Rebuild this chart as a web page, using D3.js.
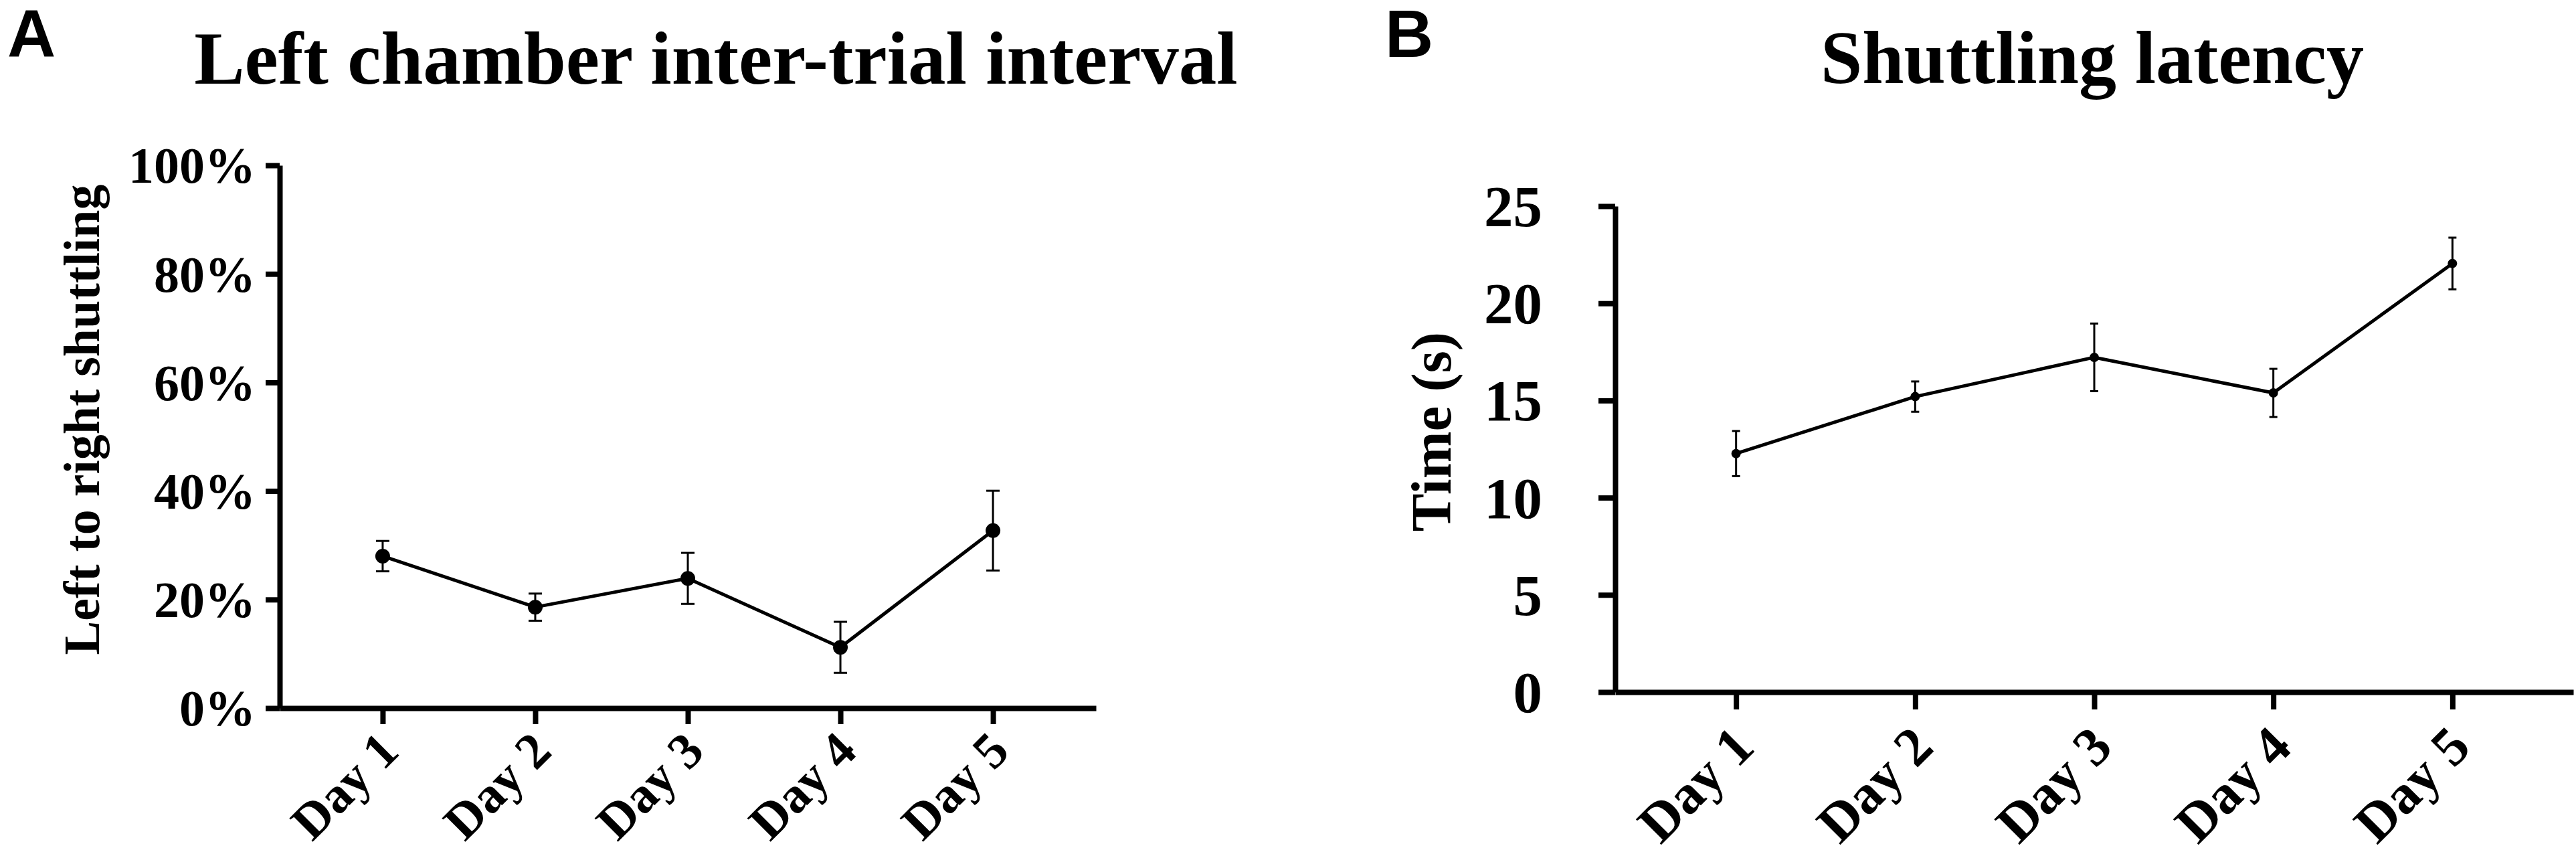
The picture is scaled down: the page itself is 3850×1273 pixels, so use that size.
<!DOCTYPE html>
<html>
<head>
<meta charset="utf-8">
<script src="https://cdn.jsdelivr.net/npm/d3@7/dist/d3.min.js"></script>
<style>
  html, body { margin: 0; padding: 0; background: #fff; }
  svg { display: block; }
  .serif { font-family: "Liberation Serif", "Times New Roman", Times, serif; font-weight: bold; }
  .sans { font-family: "Liberation Sans", Arial, Helvetica, sans-serif; font-weight: bold; }
</style>
</head>
<body>
<svg id="chart" width="3850" height="1273"></svg>
<script>
// ---- Data ----
const days = ["Day 1", "Day 2", "Day 3", "Day 4", "Day 5"];
// Panel A: Left chamber inter-trial interval (% left-to-right shuttling)
const leftToRightPct = [28.0, 18.6, 23.9, 11.2, 32.7];
const leftToRightErr = [2.8, 2.5, 4.7, 4.7, 7.35];
// Panel B: Shuttling latency (s)
const latencySec = [12.27, 15.2, 17.22, 15.39, 22.05];
const latencyErr = [1.16, 0.78, 1.74, 1.24, 1.33];
// Tick values
const pctTicks = [0, 20, 40, 60, 80, 100];
const secTicks = [0, 5, 10, 15, 20, 25];

const svg = d3.select("#chart");
svg.append("rect").attr("width", 3850).attr("height", 1273).attr("fill", "#fff");

function panel(opt) {
  const g = svg.append("g");
  const x = d3.scalePoint().domain(days).range(opt.xRange).padding(0.675);
  const y = d3.scaleLinear().domain(opt.yDomain).range(opt.yRange);

  // Y axis
  const ya = g.append("g")
    .attr("transform", `translate(${opt.xRange[0]},0)`)
    .call(d3.axisLeft(y).tickValues(opt.yTicks).tickFormat(opt.fmt)
      .tickSize(opt.yTickLen).tickSizeOuter(0).tickPadding(opt.yPad));
  ya.select(".domain").attr("stroke", "#000").attr("stroke-width", 8);
  ya.selectAll(".tick line").attr("stroke", "#000").attr("stroke-width", 8);
  ya.selectAll(".tick text").attr("class", "serif").attr("font-size", opt.tickFont)
    .attr("fill", "#000").attr("dy", "0.34em");

  // X axis
  const xa = g.append("g")
    .attr("transform", `translate(0,${opt.yRange[0]})`)
    .call(d3.axisBottom(x).tickSize(opt.xTickLen).tickSizeOuter(0));
  xa.select(".domain").attr("stroke", "#000").attr("stroke-width", 8);
  xa.selectAll(".tick line").attr("stroke", "#000").attr("stroke-width", 8);
  xa.selectAll(".tick text").attr("class", "serif").attr("font-size", opt.xFont)
    .attr("fill", "#000").attr("text-anchor", "end")
    .attr("x", 0).attr("y", 0).attr("dy", 0)
    .attr("transform", `translate(${opt.lblDx},${opt.lblDy}) rotate(-45)`);

  // Line
  const pts = days.map((d, i) => ({ d, v: opt.values[i], e: opt.errs[i] }));
  g.append("path").datum(pts)
    .attr("fill", "none").attr("stroke", "#000").attr("stroke-width", 5)
    .attr("stroke-linejoin", "round")
    .attr("d", d3.line().x(p => x(p.d)).y(p => y(p.v)));

  // Error bars
  const eb = g.selectAll(".eb").data(pts).join("g").attr("class", "eb")
    .attr("stroke", "#000").attr("stroke-width", 3);
  eb.append("line").attr("x1", p => x(p.d)).attr("x2", p => x(p.d))
    .attr("y1", p => y(p.v + p.e)).attr("y2", p => y(p.v - p.e));
  eb.append("line").attr("x1", p => x(p.d) - opt.cap).attr("x2", p => x(p.d) + opt.cap)
    .attr("y1", p => y(p.v + p.e)).attr("y2", p => y(p.v + p.e));
  eb.append("line").attr("x1", p => x(p.d) - opt.cap).attr("x2", p => x(p.d) + opt.cap)
    .attr("y1", p => y(p.v - p.e)).attr("y2", p => y(p.v - p.e));

  // Dots
  g.selectAll(".dot").data(pts).join("circle").attr("class", "dot")
    .attr("cx", p => x(p.d)).attr("cy", p => y(p.v)).attr("r", opt.r).attr("fill", "#000");

  // Title
  g.append("text").attr("class", "serif").attr("font-size", opt.titleFont)
    .attr("text-anchor", "middle").attr("x", opt.titleX).attr("y", opt.titleY)
    .text(opt.title);
  // Y label
  g.append("text").attr("class", "serif").attr("font-size", opt.yLabFont)
    .attr("text-anchor", "middle")
    .attr("transform", `translate(${opt.yLabX},${opt.yLabY}) rotate(-90)`)
    .text(opt.yLabel);
  // Panel letter
  g.append("text").attr("class", "sans").attr("font-size", 100)
    .attr("x", opt.letterX).attr("y", 85).text(opt.letter);
}

panel({
  letter: "A", letterX: 11,
  title: "Left chamber inter-trial interval", titleX: 1070, titleY: 125, titleFont: 113,
  yLabel: "Left to right shuttling", yLabX: 148, yLabY: 627, yLabFont: 76,
  xRange: [418, 1638], yRange: [1058, 247], yDomain: [0, 100],
  yTicks: pctTicks, fmt: d => d + "%", yTickLen: 21, yPad: 15, tickFont: 76,
  xTickLen: 24, xFont: 76, lblDx: 27, lblDy: 68,
  values: leftToRightPct, errs: leftToRightErr, cap: 10, r: 11
});

panel({
  letter: "B", letterX: 2070,
  title: "Shuttling latency", titleX: 3127, titleY: 124, titleFont: 112,
  yLabel: "Time (s)", yLabX: 2168, yLabY: 645, yLabFont: 85,
  xRange: [2414, 3846], yRange: [1034, 308], yDomain: [0, 25],
  yTicks: secTicks, fmt: d => d, yTickLen: 25, yPad: 84, tickFont: 87,
  xTickLen: 26, xFont: 82, lblDx: 30, lblDy: 86,
  values: latencySec, errs: latencyErr, cap: 6, r: 7
});
</script>
</body>
</html>
